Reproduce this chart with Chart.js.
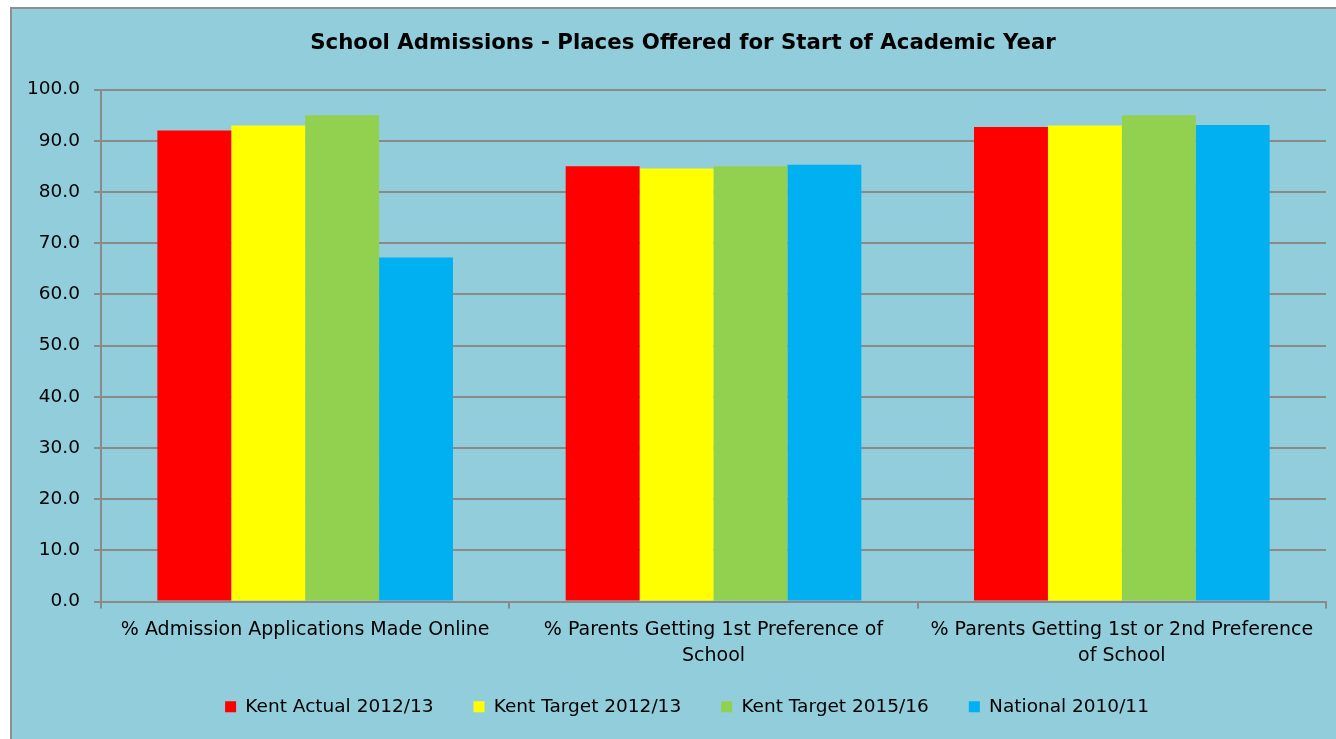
<!DOCTYPE html>
<html>
<head>
<meta charset="utf-8">
<script src="https://cdn.jsdelivr.net/npm/chart.js@4/dist/chart.umd.min.js"></script>
<style>
  html, body { margin:0; padding:0; background:#ffffff; width:1336px; height:739px; overflow:hidden; }
  #frame { position:absolute; left:10px; top:7px; width:1326px; height:732px; background:#92CDDC;
           border-left:2px solid #8e8e8e; border-top:2px solid #8e8e8e; overflow:hidden; }
  #wrap { position:absolute; left:0; top:0; width:1336px; height:737px; }
</style>
</head>
<body>
<div id="frame"><div id="wrap"><canvas id="c"></canvas></div></div>
<script>
const categories = [
  ["% Admission Applications Made Online"],
  ["% Parents Getting 1st Preference of", "School"],
  ["% Parents Getting 1st or 2nd Preference", "of School"]
];
const seriesNames = ["Kent Actual 2012/13", "Kent Target 2012/13", "Kent Target 2015/16", "National 2010/11"];
const kentActual2012 = [92.0, 85.0, 92.7];
const kentTarget2012 = [93.0, 84.6, 93.0];
const kentTarget2015 = [95.0, 85.0, 95.0];
const national2010   = [67.2, 85.3, 93.1];
const yTicks = [0, 10, 20, 30, 40, 50, 60, 70, 80, 90, 100];
const seriesColors = ["#FF0000", "#FFFF00", "#92D050", "#00B0F0"];

const seriesValues = [kentActual2012, kentTarget2012, kentTarget2015, national2010];
const FONT = "'DejaVu Sans', Verdana, sans-serif";
const GRID = "#8a8a8a";

const shiftBlocks = {
  id: 'shiftBlocks',
  afterLayout(chart) {
    const t = chart.titleBlock;
    if (t) { t.left += 10; t.right += 10; }
    const l = chart.legend;
    if (l) { l.left += 14; l.right += 14; l.top -= 14; l.bottom -= 14; }
  }
};

new Chart(document.getElementById('c'), {
  type: 'bar',
  data: {
    labels: categories,
    datasets: seriesNames.map((n, i) => ({
      label: n,
      data: seriesValues[i],
      backgroundColor: seriesColors[i],
      borderWidth: 0,
      categoryPercentage: 0.724,
      barPercentage: 1.0
    }))
  },
  options: {
    responsive: true,
    maintainAspectRatio: false,
    animation: false,
    layout: { padding: { left: 8, right: 22, top: 0, bottom: 6 } },
    plugins: {
      title: {
        display: true,
        text: 'School Admissions - Places Offered for Start of Academic Year',
        color: '#000',
        font: { family: FONT, size: 21.3, weight: 'bold' },
        padding: { top: 22, bottom: 33 }
      },
      legend: {
        position: 'bottom',
        labels: {
          color: '#000',
          font: { family: FONT, size: 18.5 },
          boxWidth: 11,
          boxHeight: 11,
          padding: 40
        }
      },
      tooltip: { enabled: false }
    },
    scales: {
      x: {
        grid: { display: true, drawOnChartArea: false, drawTicks: true, tickLength: 7, color: GRID, lineWidth: 2 },
        border: { display: true, color: GRID, width: 2 },
        ticks: { color: '#000', font: { family: FONT, size: 19, lineHeight: 1.37 }, padding: 9, maxRotation: 0, autoSkip: false },
        afterFit: s => { s.height = 70; }
      },
      y: {
        min: 0, max: 100,
        afterBuildTicks: s => { s.ticks = yTicks.map(v => ({ value: v })); },
        grid: { display: true, drawOnChartArea: true, drawTicks: true, tickLength: 7, color: GRID, lineWidth: 2 },
        border: { display: true, color: GRID, width: 2 },
        ticks: { color: '#000', font: { family: FONT, size: 18.5 }, padding: 14, callback: v => Number(v).toFixed(1) },
        afterFit: s => { s.width = 81; }
      }
    }
  },
  plugins: [shiftBlocks]
});
</script>
</body>
</html>
